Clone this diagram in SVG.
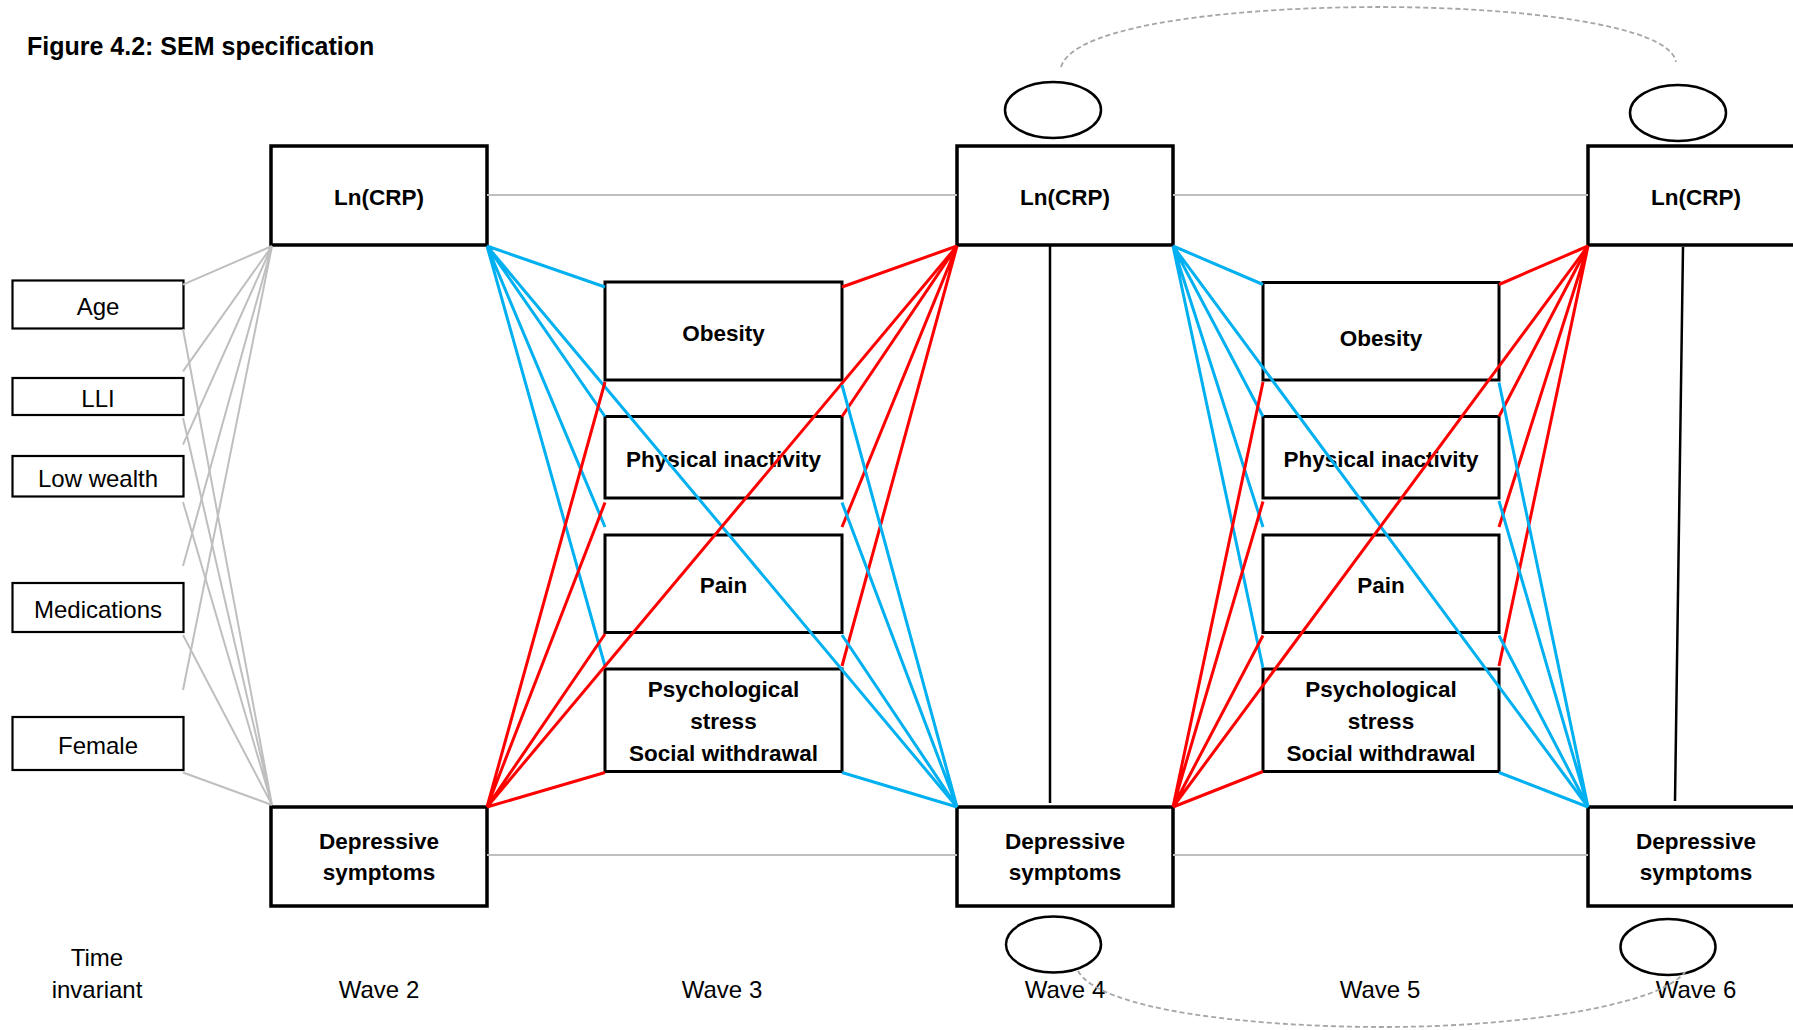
<svg xmlns="http://www.w3.org/2000/svg" width="1793" height="1030" viewBox="0 0 1793 1030">
  <style>
    .box  { fill: #fff; stroke: #000; stroke-width: 3.5; }
    .med  { fill: #fff; stroke: #000; stroke-width: 3; }
    .cov  { fill: #fff; stroke: #000; stroke-width: 2.2; }
    .err  { fill: #fff; stroke: #000; stroke-width: 2.5; }
    .b    { font-family: "Liberation Sans", Arial, sans-serif; font-weight: bold; font-size: 22.5px; text-anchor: middle; fill: #000; }
    .r    { font-family: "Liberation Sans", Arial, sans-serif; font-size: 24px; text-anchor: middle; fill: #000; }
    .title { font-family: "Liberation Sans", Arial, sans-serif; font-weight: bold; font-size: 25px; fill: #000; }
    .blue { stroke: #00B0F0; stroke-width: 3; fill: none; }
    .red  { stroke: #FF0000; stroke-width: 3; fill: none; }
    .gray { stroke: #BFBFBF; stroke-width: 2; fill: none; }
    .blk  { stroke: #000; stroke-width: 2.5; fill: none; }
    .dash { stroke: #A6A6A6; stroke-width: 1.8; stroke-dasharray: 5 3; fill: none; }
  </style>

  <rect width="1793" height="1030" fill="#fff"/>

  <text class="title" x="27" y="55">Figure 4.2: SEM specification</text>

  <!-- time-invariant covariates -->
  <g id="age"><rect class="cov" x="12.5" y="280.5" width="171" height="48"/><text class="r" x="98" y="315">Age</text></g>
  <g id="lli"><rect class="cov" x="12.5" y="378" width="171" height="37"/><text class="r" x="98" y="407">LLI</text></g>
  <g id="low-wealth"><rect class="cov" x="12.5" y="456" width="171" height="40.5"/><text class="r" x="98" y="487">Low wealth</text></g>
  <g id="medications"><rect class="cov" x="12.5" y="583" width="171" height="49"/><text class="r" x="98" y="618">Medications</text></g>
  <g id="female"><rect class="cov" x="12.5" y="717" width="171" height="53"/><text class="r" x="98" y="754">Female</text></g>

  <!-- wave 2 -->
  <g id="crp-w2"><rect class="box" x="271" y="146" width="216" height="99"/><text class="b" x="379" y="205">Ln(CRP)</text></g>
  <g id="dep-w2"><rect class="box" x="271" y="807" width="216" height="99"/><text class="b" x="379" y="849">Depressive</text><text class="b" x="379" y="880">symptoms</text></g>

  <!-- wave 3 mediators -->
  <g id="obesity-w3"><rect class="med" x="605" y="282" width="237" height="98"/><text class="b" x="723.5" y="341">Obesity</text></g>
  <g id="inactivity-w3"><rect class="med" x="605" y="416.5" width="237" height="81.5"/><text class="b" x="723.5" y="467">Physical inactivity</text></g>
  <g id="pain-w3"><rect class="med" x="605" y="535" width="237" height="97.5"/><text class="b" x="723.5" y="593">Pain</text></g>
  <g id="stress-w3"><rect class="med" x="605" y="669" width="237" height="102.5"/><text class="b" x="723.5" y="697">Psychological</text><text class="b" x="723.5" y="729">stress</text><text class="b" x="723.5" y="761">Social withdrawal</text></g>

  <!-- wave 4 -->
  <g id="crp-w4"><rect class="box" x="957" y="146" width="216" height="99"/><text class="b" x="1065" y="205">Ln(CRP)</text></g>
  <g id="dep-w4"><rect class="box" x="957" y="807" width="216" height="99"/><text class="b" x="1065" y="849">Depressive</text><text class="b" x="1065" y="880">symptoms</text></g>
  <g id="err-crp-w4"><ellipse class="err" cx="1053" cy="110" rx="48" ry="28"/></g>
  <g id="err-dep-w4"><ellipse class="err" cx="1053.5" cy="944.5" rx="47.5" ry="28"/></g>

  <!-- wave 5 mediators -->
  <g id="obesity-w5"><rect class="med" x="1263" y="282.5" width="236" height="97.5"/><text class="b" x="1381" y="346">Obesity</text></g>
  <g id="inactivity-w5"><rect class="med" x="1263" y="416.5" width="236" height="81.5"/><text class="b" x="1381" y="467">Physical inactivity</text></g>
  <g id="pain-w5"><rect class="med" x="1263" y="535" width="236" height="97.5"/><text class="b" x="1381" y="593">Pain</text></g>
  <g id="stress-w5"><rect class="med" x="1263" y="669" width="236" height="102.5"/><text class="b" x="1381" y="697">Psychological</text><text class="b" x="1381" y="729">stress</text><text class="b" x="1381" y="761">Social withdrawal</text></g>

  <!-- wave 6 -->
  <g id="crp-w6"><rect class="box" x="1588" y="146" width="216" height="99"/><text class="b" x="1696" y="205">Ln(CRP)</text></g>
  <g id="dep-w6"><rect class="box" x="1588" y="807" width="216" height="99"/><text class="b" x="1696" y="849">Depressive</text><text class="b" x="1696" y="880">symptoms</text></g>
  <g id="err-crp-w6"><ellipse class="err" cx="1678" cy="113" rx="48" ry="28"/></g>
  <g id="err-dep-w6"><ellipse class="err" cx="1668" cy="947" rx="47.5" ry="28"/></g>

  <!-- wave labels -->
  <g id="wave-labels">
    <text class="r" x="97" y="966">Time</text>
    <text class="r" x="97" y="998">invariant</text>
    <text class="r" x="379" y="998">Wave 2</text>
    <text class="r" x="722" y="998">Wave 3</text>
    <text class="r" x="1065" y="998">Wave 4</text>
    <text class="r" x="1380" y="998">Wave 5</text>
    <text class="r" x="1696" y="998">Wave 6</text>
  </g>

  <g id="connectors">
    <!-- covariates to wave-2 Ln(CRP) and depressive symptoms -->
    <g class="gray">
      <path d="M272,246 L183,284.6 M272,246 L183,371.4 M272,246 L183,444.6 M272,246 L183,566 M272,246 L183,690"/>
      <path d="M272,805 L183,329 M272,805 L183,418 M272,805 L183,502 M272,805 L183,635 M272,805 L183,772.5"/>
      <!-- autoregressive paths -->
      <path d="M487,195 H957 M1173,195 H1588"/>
      <path d="M487,855 H957 M1173,855 H1588"/>
    </g>

    <!-- within-wave covariances -->
    <path class="blk" d="M1050,246 V803 M1683,247 L1675,801"/>

    <!-- residual covariances -->
    <path class="dash" d="M1061,67 C1075,22 1250,7 1379,7 C1520,7 1670,25 1676,62"/>
    <path class="dash" d="M1078,971 C1100,1010 1250,1027 1384,1027 C1520,1027 1660,1005 1685,972"/>

    <!-- wave 2 to wave 4 -->
    <path class="blue" d="M487,246 L605,287 M487,246 L605,416.5 M487,246 L605,527 M487,246 L605,666 M487,246 L957,807"/>
    <path class="red" d="M487,807 L605,772.5 M487,807 L605,634 M487,807 L605,502.5 M487,807 L605,382 M487,807 L957,246"/>
    <path class="red" d="M957,246 L842,287 M957,246 L842,416.5 M957,246 L842,527 M957,246 L842,666"/>
    <path class="blue" d="M957,807 L842,772.5 M957,807 L842,635 M957,807 L842,502.5 M957,807 L842,385"/>

    <!-- wave 4 to wave 6 -->
    <path class="blue" d="M1173,246 L1263,284.5 M1173,246 L1263,416.5 M1173,246 L1263,527 M1173,246 L1263,668 M1173,246 L1588,807"/>
    <path class="red" d="M1173,807 L1263,771.5 M1173,807 L1263,635.5 M1173,807 L1263,501.5 M1173,807 L1263,382 M1173,807 L1588,246"/>
    <path class="red" d="M1588,246 L1499,284.5 M1588,246 L1499,416.5 M1588,246 L1499,527 M1588,246 L1499,666"/>
    <path class="blue" d="M1588,807 L1499,772.5 M1588,807 L1499,635.5 M1588,807 L1499,501 M1588,807 L1499,382.5"/>
  </g>
</svg>
